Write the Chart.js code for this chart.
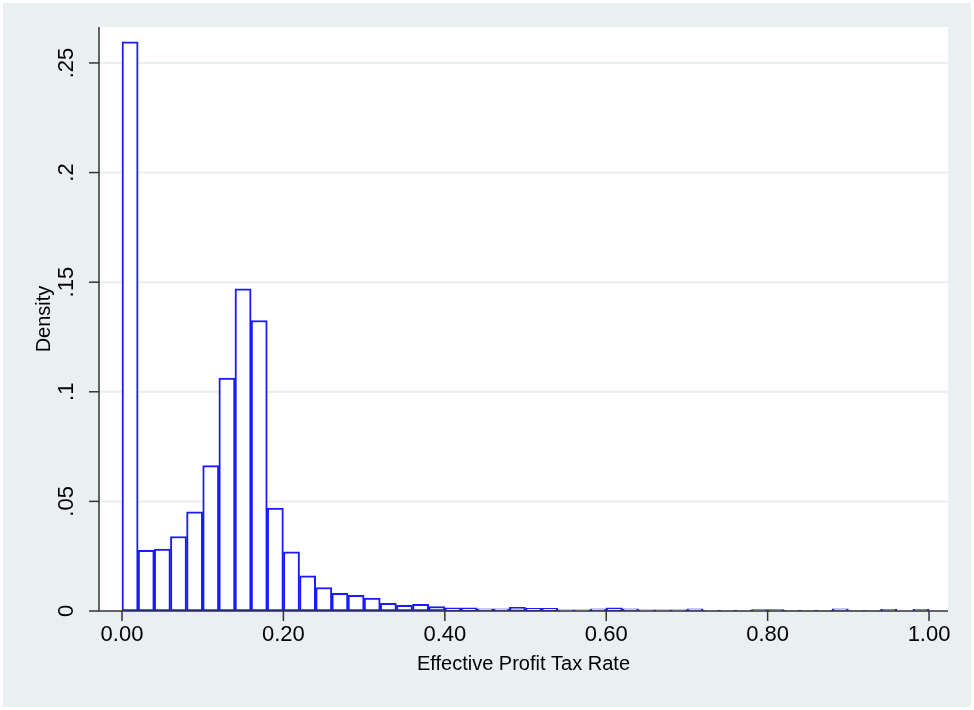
<!DOCTYPE html>
<html><head><meta charset="utf-8">
<script src="https://cdn.jsdelivr.net/npm/chart.js@4"></script>
<style>html,body{margin:0;padding:0;background:#fff}#w{width:974px;height:710px}</style>
</head><body><div id="w"><canvas id="c"></canvas></div>
<script>
const binStarts = [];
for (let i = 0; i < 50; i++) binStarts.push(i * 0.02);
const densities = [0.2596,0.0277,0.0282,0.034,0.0452,0.0663,0.1063,0.147,0.1325,0.047,
0.027,0.0161,0.0107,0.0081,0.0072,0.0059,0.0035,0.0026,0.003,0.002,
0.0015,0.0015,0.001,0.001,0.0017,0.0012,0.0012,0.0005,0.0005,0.001,
0.0015,0.001,0.0005,0.0005,0.0005,0.001,0.0003,0.0003,0.0003,0.0006,
0.0006,0.0003,0.0003,0.0003,0.001,0.0002,0.0002,0.0008,0,0.0008];
const xTicks = [0,0.2,0.4,0.6,0.8,1.0];
const xTickLabels = ["0.00","0.20","0.40","0.60","0.80","1.00"];
const yTicks = [0,0.05,0.1,0.15,0.2,0.25];
const yTickLabels = ["0",".05",".1",".15",".2",".25"];
const FONT = '"Liberation Sans", Arial, sans-serif';

const deco = {
  id:'deco',
  beforeDraw(ch){
    const c=ch.ctx, a=ch.chartArea, ys=ch.scales.y;
    c.save();
    c.fillStyle='#fff'; c.fillRect(0,0,ch.width,ch.height);
    c.fillStyle='#eaf0f2'; c.fillRect(3,3,ch.width-6,ch.height-6);
    c.fillStyle='#fff'; c.fillRect(a.left,a.top,a.right-a.left,a.bottom-a.top);
    c.strokeStyle='#e9eef0'; c.lineWidth=2;
    yTicks.forEach(v=>{ if(v===0) return; const y=ys.getPixelForValue(v);
      c.beginPath(); c.moveTo(a.left,y); c.lineTo(a.right,y); c.stroke(); });
    c.restore();
  },
  afterDraw(ch){
    const c=ch.ctx, a=ch.chartArea, xs=ch.scales.x, ys=ch.scales.y;
    c.save();
    c.strokeStyle='#333'; c.lineWidth=1.5;
    c.beginPath(); c.moveTo(a.left,a.top); c.lineTo(a.left,a.bottom); c.lineTo(a.right,a.bottom); c.stroke();
    c.fillStyle='#000'; c.font='22px '+FONT;
    yTicks.forEach((v,i)=>{ const y=ys.getPixelForValue(v);
      c.beginPath(); c.moveTo(a.left-10,y); c.lineTo(a.left,y); c.stroke();
      c.save(); c.translate(78,y); c.rotate(-Math.PI/2);
      c.textAlign='center'; c.textBaseline='bottom'; c.fillText(yTickLabels[i],0,0); c.restore(); });
    xTicks.forEach((v,i)=>{ const x=xs.getPixelForValue(v);
      c.beginPath(); c.moveTo(x,a.bottom); c.lineTo(x,a.bottom+10); c.stroke();
      c.textAlign='center'; c.textBaseline='top'; c.fillText(xTickLabels[i],x,624); });
    c.font='20px '+FONT;
    c.textAlign='center'; c.textBaseline='middle';
    c.fillText('Effective Profit Tax Rate',(a.left+a.right)/2,664);
    c.save(); c.translate(44,(a.top+a.bottom)/2); c.rotate(-Math.PI/2);
    c.fillText('Density',0,0); c.restore();
    c.restore();
  }
};

new Chart(document.getElementById('c'),{
  type:'bar',
  data:{datasets:[{
    data: binStarts.map((s,i)=>({x:s+0.01,y:densities[i]})),
    backgroundColor:'#ffffff', borderColor:'#1a1aff', borderWidth:2,
    borderSkipped:false, barPercentage:1, categoryPercentage:1
  }]},
  options:{
    responsive:true, maintainAspectRatio:false, animation:false,
    layout:{padding:{left:99,top:27,right:26,bottom:99}},
    plugins:{legend:{display:false},tooltip:{enabled:false}},
    scales:{
      x:{type:'linear',min:-0.0285,max:1.0235,display:false,offset:false},
      y:{min:0,max:0.2664,display:false}
    }
  },
  plugins:[deco]
});
</script></body></html>
